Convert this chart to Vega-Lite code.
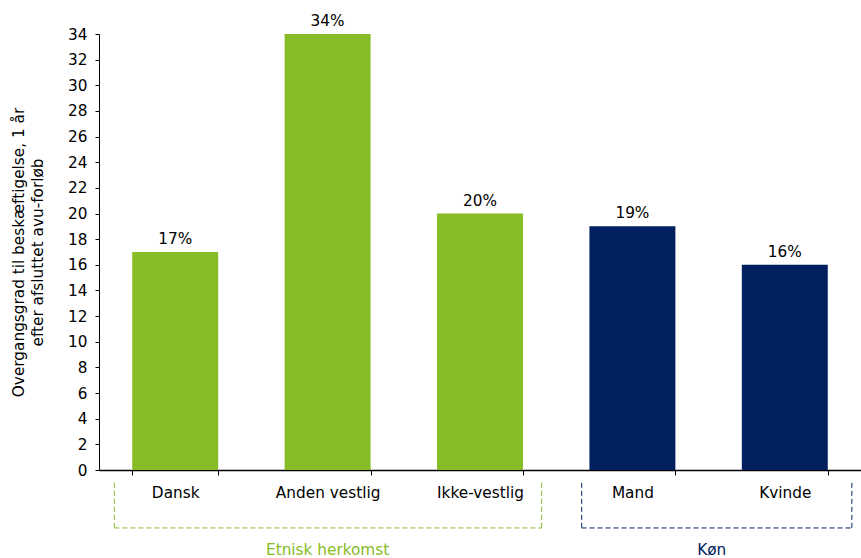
{
  "$schema": "https://vega.github.io/schema/vega-lite/v6.json",
  "width": 762,
  "height": 436,
  "autosize": {"type": "none"},
  "padding": {"left": 99, "top": 34, "right": 0, "bottom": 88},
  "background": "white",
  "config": {
    "view": {"stroke": null},
    "font": "DejaVu Sans",
    "axis": {
      "labelFont": "DejaVu Sans",
      "labelFontSize": 15.3,
      "labelColor": "#000000",
      "titleFont": "DejaVu Sans",
      "titleFontSize": 15.3,
      "titleFontWeight": "normal",
      "titleColor": "#000000",
      "domainColor": "#000000",
      "tickColor": "#000000",
      "grid": false
    }
  },
  "resolve": {"axis": {"x": "independent", "y": "independent"}},
  "datasets": {
    "bars": [
      {"kategori": "Dansk", "gruppe": "Etnisk herkomst", "andel": 17, "label": "17%"},
      {"kategori": "Anden vestlig", "gruppe": "Etnisk herkomst", "andel": 34, "label": "34%"},
      {"kategori": "Ikke-vestlig", "gruppe": "Etnisk herkomst", "andel": 20, "label": "20%"},
      {"kategori": "Mand", "gruppe": "Køn", "andel": 19, "label": "19%"},
      {"kategori": "Kvinde", "gruppe": "Køn", "andel": 16, "label": "16%"}
    ],
    "groups": [
      {"gruppe": "Etnisk herkomst", "start": "Dansk", "end": "Ikke-vestlig", "mid": "Anden vestlig"},
      {"gruppe": "Køn", "start": "Mand", "end": "Kvinde", "mid": "Kvinde"}
    ]
  },
  "layer": [
    {
      "data": {"name": "bars"},
      "mark": {"type": "bar"},
      "encoding": {
        "x": {
          "field": "kategori",
          "type": "nominal",
          "sort": null,
          "scale": {
            "domain": ["Dansk", "Anden vestlig", "Ikke-vestlig", "Mand", "Kvinde"],
            "paddingInner": 0.436,
            "paddingOuter": 0.218
          },
          "axis": {
            "title": null,
            "labelAngle": 0,
            "tickBand": "extent",
            "tickSize": 5,
            "labelPadding": 10,
            "domainWidth": 1.5
          }
        },
        "y": {
          "field": "andel",
          "type": "quantitative",
          "scale": {"domain": [0, 34], "nice": false},
          "axis": {
            "values": [0, 2, 4, 6, 8, 10, 12, 14, 16, 18, 20, 22, 24, 26, 28, 30, 32, 34],
            "labelOverlap": false,
            "labelFlush": false,
            "tickSize": 4,
            "labelPadding": 8,
            "titlePadding": 22,
            "titleLineHeight": 19,
            "title": ["Overgangsgrad til beskæftigelse, 1 år", "efter afsluttet avu-forløb"]
          }
        },
        "color": {
          "field": "gruppe",
          "type": "nominal",
          "scale": {"domain": ["Etnisk herkomst", "Køn"], "range": ["#86BC25", "#002060"]},
          "legend": null
        }
      }
    },
    {
      "data": {"name": "bars"},
      "mark": {"type": "text", "baseline": "bottom", "dy": -5, "fontSize": 15.3, "color": "#000000"},
      "encoding": {
        "x": {"field": "kategori", "type": "nominal", "sort": null, "axis": null},
        "y": {"field": "andel", "type": "quantitative", "axis": null},
        "text": {"field": "label"}
      }
    },
    {
      "data": {"name": "groups"},
      "transform": [{"filter": "datum.gruppe === 'Etnisk herkomst'"}],
      "layer": [
        {
          "mark": {"type": "rule", "strokeDash": [5, 3], "strokeWidth": 1},
          "encoding": {
            "x": {"field": "start", "type": "nominal", "bandPosition": -0.208, "axis": null},
            "y": {"datum": -1.0, "type": "quantitative", "axis": null},
            "y2": {"datum": -4.52},
            "color": {"field": "gruppe", "type": "nominal", "legend": null}
          }
        },
        {
          "mark": {"type": "rule", "strokeDash": [5, 3], "strokeWidth": 1},
          "encoding": {
            "x": {"field": "end", "type": "nominal", "bandPosition": 1.217, "axis": null},
            "y": {"datum": -1.0, "type": "quantitative", "axis": null},
            "y2": {"datum": -4.52},
            "color": {"field": "gruppe", "type": "nominal", "legend": null}
          }
        },
        {
          "mark": {"type": "rule", "strokeDash": [5, 3], "strokeWidth": 1},
          "encoding": {
            "x": {"field": "start", "type": "nominal", "bandPosition": -0.208, "axis": null},
            "x2": {"field": "end", "bandPosition": 1.217},
            "y": {"datum": -4.52, "type": "quantitative", "axis": null},
            "color": {"field": "gruppe", "type": "nominal", "legend": null}
          }
        },
        {
          "mark": {"type": "text", "baseline": "alphabetic", "fontSize": 15.3},
          "encoding": {
            "x": {"field": "mid", "type": "nominal", "bandPosition": 0.5, "axis": null},
            "y": {"datum": -6.65, "type": "quantitative", "axis": null},
            "text": {"field": "gruppe"},
            "color": {"field": "gruppe", "type": "nominal", "legend": null}
          }
        }
      ]
    },
    {
      "data": {"name": "groups"},
      "transform": [{"filter": "datum.gruppe === 'Køn'"}],
      "layer": [
        {
          "mark": {"type": "rule", "strokeDash": [5, 3], "strokeWidth": 1},
          "encoding": {
            "x": {"field": "start", "type": "nominal", "bandPosition": -0.09, "axis": null},
            "y": {"datum": -1.0, "type": "quantitative", "axis": null},
            "y2": {"datum": -4.52},
            "color": {"field": "gruppe", "type": "nominal", "legend": null}
          }
        },
        {
          "mark": {"type": "rule", "strokeDash": [5, 3], "strokeWidth": 1},
          "encoding": {
            "x": {"field": "end", "type": "nominal", "bandPosition": 1.28, "axis": null},
            "y": {"datum": -1.0, "type": "quantitative", "axis": null},
            "y2": {"datum": -4.52},
            "color": {"field": "gruppe", "type": "nominal", "legend": null}
          }
        },
        {
          "mark": {"type": "rule", "strokeDash": [5, 3], "strokeWidth": 1},
          "encoding": {
            "x": {"field": "start", "type": "nominal", "bandPosition": -0.09, "axis": null},
            "x2": {"field": "end", "bandPosition": 1.28},
            "y": {"datum": -4.52, "type": "quantitative", "axis": null},
            "color": {"field": "gruppe", "type": "nominal", "legend": null}
          }
        },
        {
          "mark": {"type": "text", "baseline": "alphabetic", "fontSize": 15.3},
          "encoding": {
            "x": {"field": "mid", "type": "nominal", "bandPosition": -0.35, "axis": null},
            "y": {"datum": -6.65, "type": "quantitative", "axis": null},
            "text": {"field": "gruppe"},
            "color": {"field": "gruppe", "type": "nominal", "legend": null}
          }
        }
      ]
    }
  ]
}
